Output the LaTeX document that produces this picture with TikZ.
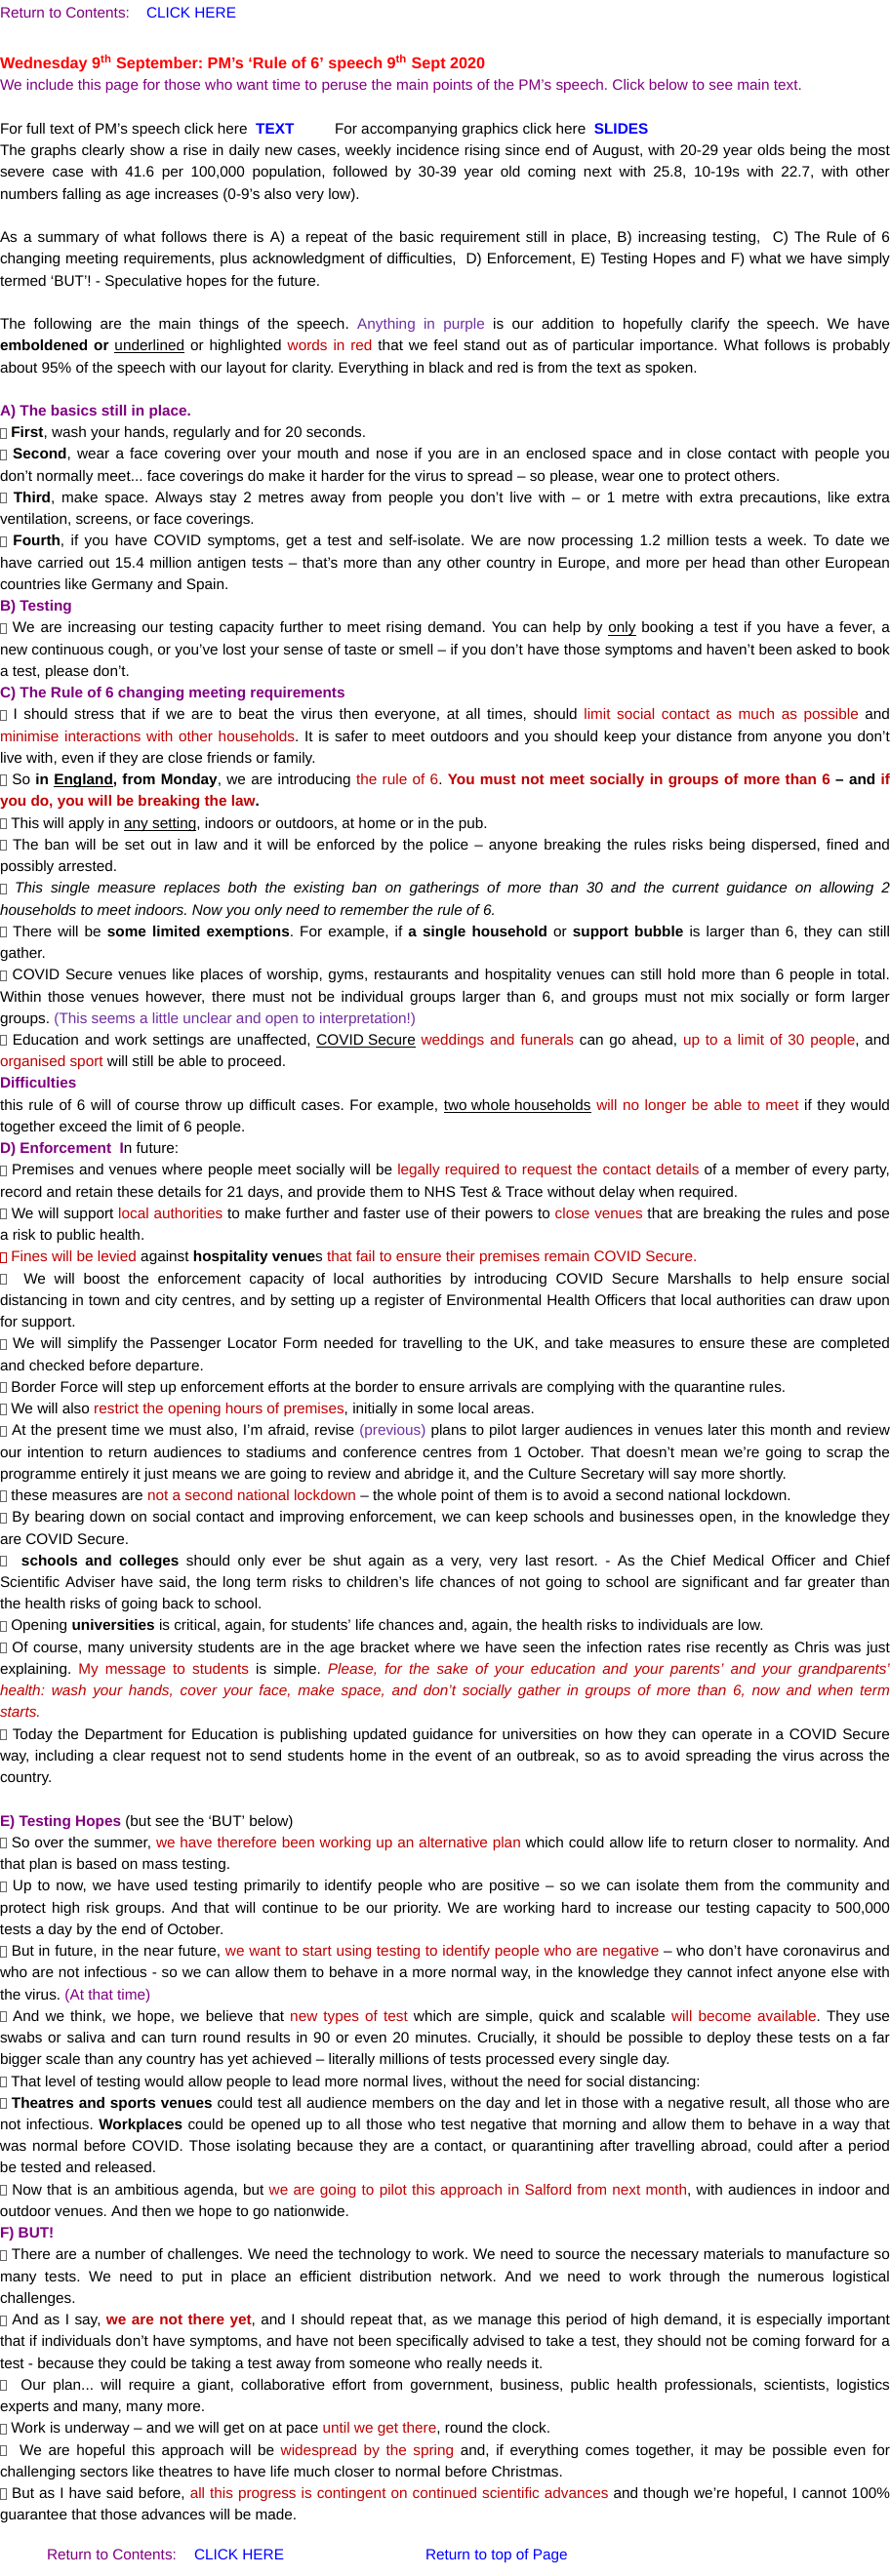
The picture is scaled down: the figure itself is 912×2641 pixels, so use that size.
\documentclass[tikz,border=0pt]{standalone}
\usepackage{fontspec}
\setmainfont{Liberation Sans}
\usepackage{xcolor}
\usepackage{tikz}
\usetikzlibrary{positioning}

\definecolor{navpurple}{HTML}{800080}
\definecolor{addviolet}{HTML}{7030A0}
\definecolor{speechred}{HTML}{C00000}
\definecolor{titlered}{HTML}{FF0000}
\definecolor{linkblue}{HTML}{0000FF}

\newcommand\bodysize{\fontsize{11.5pt}{16.68pt}\selectfont\frenchspacing}
\newcommand\sq[1][black!60]{{\color{#1}\setlength{\fboxsep}{0pt}\setlength{\fboxrule}{0.45pt}\fbox{\rule{0pt}{0.62em}\hspace{0.38em}}}}
\newcommand\sechead[1]{\textcolor{navpurple}{\bfseries #1}}
\newcommand\hilite[1]{\textcolor{speechred}{#1}}
\newcommand\ouradd[1]{\textcolor{addviolet}{#1}}
\newcommand\undl[1]{\begingroup\setbox0=\hbox{#1}\rlap{\rule[-1.8pt]{\wd0}{0.6pt}}\box0\endgroup}
\newcommand\jline[1]{\hbox to 684pt{\strut#1}}
\newcommand\lline[1]{\hbox{\strut#1}}
\hbadness=10000

\begin{document}
\begin{tikzpicture}[
    x=0.75pt, y=-0.75pt,
    textblock/.style={inner sep=0pt, outer sep=0pt, font=\bodysize},
    navlink/.style={inner sep=0pt, outer sep=0pt, anchor=base west, font=\bodysize}
  ]
    \path[fill=white, use as bounding box] (0,0) rectangle (912,2641);

    \node[navlink, text=navpurple] (topret) at (0,18) {Return to Contents:};
    \node[navlink, text=linkblue] (topclick) at (150,18) {CLICK HERE};

    \node[textblock, anchor=north west] (title) at (0,55.1) {\vbox{%
      \lline{\color{titlered}\bfseries\fontsize{12.15pt}{16.68pt}\selectfont Wednesday 9\textsuperscript{th} September: PM’s ‘Rule of 6’ speech 9\textsuperscript{th} Sept 2020}
      \lline{\color{navpurple}We include this page for those who want time to peruse the main points of the PM’s speech. Click below to see main text.}}};

    \node[textblock, below=16.68pt of title.south west, anchor=north west] (links) {\vbox{%
      \lline{\makebox[257.25pt][l]{For full text of PM’s speech click here\ \ \textbf{\textcolor{linkblue}{TEXT}}}For accompanying graphics click here\ \ \textbf{\textcolor{linkblue}{SLIDES}}}
      \jline{The graphs clearly show a rise in daily new cases, weekly incidence rising since end of August, with 20-29 year olds being the most}
      \jline{severe case with 41.6 per 100,000 population, followed by 30-39 year old coming next with 25.8, 10-19s with 22.7, with other}
      \lline{numbers falling as age increases (0-9’s also very low).}}};

    \node[textblock, below=16.68pt of links.south west, anchor=north west] (summary) {\vbox{%
      \jline{As a summary of what follows there is A) a repeat of the basic requirement still in place, B) increasing testing,\ \ C) The Rule of 6}
      \jline{changing meeting requirements, plus acknowledgment of difficulties,\ \ D) Enforcement, E) Testing Hopes and F) what we have simply}
      \lline{termed ‘BUT’! - Speculative hopes for the future.}}};

    \node[textblock, below=16.68pt of summary.south west, anchor=north west] (mainthings) {\vbox{%
      \jline{The following are the main things of the speech. \ouradd{Anything in purple} is our addition to hopefully clarify the speech. We have}
      \jline{\textbf{emboldened or} \undl{underlined} or highlighted \hilite{words in red} that we feel stand out as of particular importance. What follows is probably}
      \lline{about 95\% of the speech with our layout for clarity. Everything in black and red is from the text as spoken.}}};

    \node[textblock, below=16.68pt of mainthings.south west, anchor=north west] (basics) {\vbox{%
      \lline{\sechead{A) The basics still in place.}}
      \lline{\sq\ \textbf{First}, wash your hands, regularly and for 20 seconds.}
      \jline{\sq\ \textbf{Second}, wear a face covering over your mouth and nose if you are in an enclosed space and in close contact with people you}
      \lline{don’t normally meet... face coverings do make it harder for the virus to spread – so please, wear one to protect others.}
      \jline{\sq\ \textbf{Third}, make space. Always stay 2 metres away from people you don’t live with – or 1 metre with extra precautions, like extra}
      \lline{ventilation, screens, or face coverings.}
      \jline{\sq\ \textbf{Fourth}, if you have COVID symptoms, get a test and self-isolate. We are now processing 1.2 million tests a week. To date we}
      \jline{have carried out 15.4 million antigen tests – that’s more than any other country in Europe, and more per head than other European}
      \lline{countries like Germany and Spain.}}};

    \node[textblock, below=0pt of basics.south west, anchor=north west] (testing) {\vbox{%
      \lline{\sechead{B) Testing}}
      \jline{\sq\ We are increasing our testing capacity further to meet rising demand. You can help by \undl{only} booking a test if you have a fever, a}
      \jline{new continuous cough, or you’ve lost your sense of taste or smell – if you don’t have those symptoms and haven’t been asked to book}
      \lline{a test, please don’t.}}};

    \node[textblock, below=0pt of testing.south west, anchor=north west] (ruleofsix) {\vbox{%
      \lline{\sechead{C) The Rule of 6 changing meeting requirements}}
      \jline{\sq\ I should stress that if we are to beat the virus then everyone, at all times, should \hilite{limit social contact as much as possible} and}
      \jline{\hilite{minimise interactions with other households}. It is safer to meet outdoors and you should keep your distance from anyone you don’t}
      \lline{live with, even if they are close friends or family.}
      \jline{\sq\ So \textbf{in \undl{England}, from Monday}, we are introducing \hilite{the rule of 6}. \textbf{\hilite{You must not meet socially in groups of more than 6} – and \hilite{if}}}
      \lline{\textbf{\hilite{you do, you will be breaking the law}.}}
      \lline{\sq\ This will apply in \undl{any setting}, indoors or outdoors, at home or in the pub.}
      \jline{\sq\ The ban will be set out in law and it will be enforced by the police – anyone breaking the rules risks being dispersed, fined and}
      \lline{possibly arrested.}
      \jline{\sq\ \textit{This single measure replaces both the existing ban on gatherings of more than 30 and the current guidance on allowing 2}}
      \lline{\textit{households to meet indoors. Now you only need to remember the rule of 6.}}
      \jline{\sq\ There will be \textbf{some limited exemptions}. For example, if \textbf{a single household} or \textbf{support bubble} is larger than 6, they can still}
      \lline{gather.}
      \jline{\sq\ COVID Secure venues like places of worship, gyms, restaurants and hospitality venues can still hold more than 6 people in total.}
      \jline{Within those venues however, there must not be individual groups larger than 6, and groups must not mix socially or form larger}
      \lline{groups. \ouradd{(This seems a little unclear and open to interpretation!)}}
      \jline{\sq\ Education and work settings are unaffected, \undl{COVID Secure} \hilite{weddings and funerals} can go ahead, \hilite{up to a limit of 30 people}, and}
      \lline{\hilite{organised sport} will still be able to proceed.}}};

    \node[textblock, below=0pt of ruleofsix.south west, anchor=north west] (difficulties) {\vbox{%
      \lline{\sechead{Difficulties}}
      \jline{this rule of 6 will of course throw up difficult cases. For example, \undl{two whole households} \hilite{will no longer be able to meet} if they would}
      \lline{together exceed the limit of 6 people.}}};

    \node[textblock, below=0pt of difficulties.south west, anchor=north west] (enforce) {\vbox{%
      \lline{\sechead{D) Enforcement\ \ I}n future:}
      \jline{\sq\ Premises and venues where people meet socially will be \hilite{legally required to request the contact details} of a member of every party,}
      \lline{record and retain these details for 21 days, and provide them to NHS Test \& Trace without delay when required.}
      \jline{\sq\ We will support \hilite{local authorities} to make further and faster use of their powers to \hilite{close venues} that are breaking the rules and pose}
      \lline{a risk to public health.}
      \lline{\hilite{\sq[speechred]\ Fines will be levied} against \textbf{hospitality venue}s \hilite{that fail to ensure their premises remain COVID Secure.}}
      \jline{\sq\ \ We will boost the enforcement capacity of local authorities by introducing COVID Secure Marshalls to help ensure social}
      \jline{distancing in town and city centres, and by setting up a register of Environmental Health Officers that local authorities can draw upon}
      \lline{for support.}
      \jline{\sq\ We will simplify the Passenger Locator Form needed for travelling to the UK, and take measures to ensure these are completed}
      \lline{and checked before departure.}
      \lline{\sq\ Border Force will step up enforcement efforts at the border to ensure arrivals are complying with the quarantine rules.}
      \lline{\sq\ We will also \hilite{restrict the opening hours of premises}, initially in some local areas.}
      \jline{\sq\ At the present time we must also, I’m afraid, revise \ouradd{(previous)} plans to pilot larger audiences in venues later this month and review}
      \jline{our intention to return audiences to stadiums and conference centres from 1 October. That doesn’t mean we’re going to scrap the}
      \lline{programme entirely it just means we are going to review and abridge it, and the Culture Secretary will say more shortly.}
      \lline{\sq\ these measures are \hilite{not a second national lockdown} – the whole point of them is to avoid a second national lockdown.}
      \jline{\sq\ By bearing down on social contact and improving enforcement, we can keep schools and businesses open, in the knowledge they}
      \lline{are COVID Secure.}
      \jline{\sq\ \ \textbf{schools and colleges} should only ever be shut again as a very, very last resort. - As the Chief Medical Officer and Chief}
      \jline{Scientific Adviser have said, the long term risks to children’s life chances of not going to school are significant and far greater than}
      \lline{the health risks of going back to school.}
      \lline{\sq\ Opening \textbf{universities} is critical, again, for students’ life chances and, again, the health risks to individuals are low.}
      \jline{\sq\ Of course, many university students are in the age bracket where we have seen the infection rates rise recently as Chris was just}
      \jline{explaining. \hilite{My message to students} is simple. \hilite{\itshape Please, for the sake of your education and your parents’ and your grandparents’}}
      \jline{\hilite{\itshape health: wash your hands, cover your face, make space, and don’t socially gather in groups of more than 6, now and when term}}
      \lline{\hilite{\itshape starts.}}
      \jline{\sq\ Today the Department for Education is publishing updated guidance for universities on how they can operate in a COVID Secure}
      \jline{way, including a clear request not to send students home in the event of an outbreak, so as to avoid spreading the virus across the}
      \lline{country.}}};

    \node[textblock, below=16.68pt of enforce.south west, anchor=north west] (hopes) {\vbox{%
      \lline{\sechead{E) Testing Hopes} (but see the ‘BUT’ below)}
      \jline{\sq\ So over the summer, \hilite{we have therefore been working up an alternative plan} which could allow life to return closer to normality. And}
      \lline{that plan is based on mass testing.}
      \jline{\sq\ Up to now, we have used testing primarily to identify people who are positive – so we can isolate them from the community and}
      \jline{protect high risk groups. And that will continue to be our priority. We are working hard to increase our testing capacity to 500,000}
      \lline{tests a day by the end of October.}
      \jline{\sq\ But in future, in the near future, \hilite{we want to start using testing to identify people who are negative} – who don’t have coronavirus and}
      \jline{who are not infectious - so we can allow them to behave in a more normal way, in the knowledge they cannot infect anyone else with}
      \lline{the virus. \textcolor{navpurple}{(At that time)}}
      \jline{\sq\ And we think, we hope, we believe that \hilite{new types of test} which are simple, quick and scalable \hilite{will become available}. They use}
      \jline{swabs or saliva and can turn round results in 90 or even 20 minutes. Crucially, it should be possible to deploy these tests on a far}
      \lline{bigger scale than any country has yet achieved – literally millions of tests processed every single day.}
      \lline{\sq\ That level of testing would allow people to lead more normal lives, without the need for social distancing:}
      \jline{\sq\ \textbf{Theatres and sports venues} could test all audience members on the day and let in those with a negative result, all those who are}
      \jline{not infectious. \textbf{Workplaces} could be opened up to all those who test negative that morning and allow them to behave in a way that}
      \jline{was normal before COVID. Those isolating because they are a contact, or quarantining after travelling abroad, could after a period}
      \lline{be tested and released.}
      \jline{\sq\ Now that is an ambitious agenda, but \hilite{we are going to pilot this approach in Salford from next month}, with audiences in indoor and}
      \lline{outdoor venues. And then we hope to go nationwide.}}};

    \node[textblock, below=0pt of hopes.south west, anchor=north west] (but) {\vbox{%
      \lline{\sechead{F) BUT!}}
      \jline{\sq\ There are a number of challenges. We need the technology to work. We need to source the necessary materials to manufacture so}
      \jline{many tests. We need to put in place an efficient distribution network. And we need to work through the numerous logistical}
      \lline{challenges.}
      \jline{\sq\ And as I say, \textbf{\hilite{we are not there yet}}, and I should repeat that, as we manage this period of high demand, it is especially important}
      \jline{that if individuals don’t have symptoms, and have not been specifically advised to take a test, they should not be coming forward for a}
      \lline{test - because they could be taking a test away from someone who really needs it.}
      \jline{\sq\ \ Our plan... will require a giant, collaborative effort from government, business, public health professionals, scientists, logistics}
      \lline{experts and many, many more.}
      \lline{\sq\ Work is underway – and we will get on at pace \hilite{until we get there}, round the clock.}
      \jline{\sq\ \ We are hopeful this approach will be \hilite{widespread by the spring} and, if everything comes together, it may be possible even for}
      \lline{challenging sectors like theatres to have life much closer to normal before Christmas.}
      \jline{\sq\ But as I have said before, \hilite{all this progress is contingent on continued scientific advances} and though we’re hopeful, I cannot 100\%}
      \lline{guarantee that those advances will be made.}}};

    \node[navlink, text=navpurple] (botret) at (48,2624.5) {Return to Contents:};
    \node[navlink, text=linkblue] (botclick) at (199,2624.5) {CLICK HERE};
    \node[navlink, text=linkblue] (toppage) at (436,2624.5) {Return to top of Page};
  \end{tikzpicture}
\end{document}
